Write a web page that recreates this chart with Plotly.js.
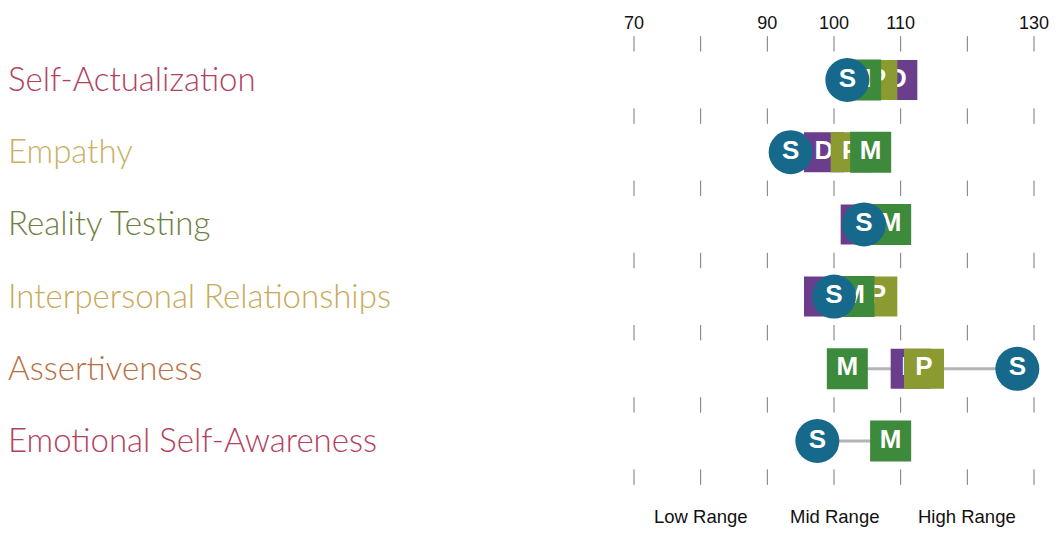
<!DOCTYPE html>
<html>
<head>
<meta charset="utf-8">
<script src="https://cdn.plot.ly/plotly-3.0.1.min.js"></script>
<style>
  html, body { margin: 0; padding: 0; background: #fff; }
  #chart { width: 1057px; height: 535px; }
</style>
</head>
<body>
<div id="chart"></div>
<script>
// scales, top to bottom
const scales = ['Self-Actualization', 'Empathy', 'Reality Testing',
    'Interpersonal Relationships', 'Assertiveness', 'Emotional Self-Awareness'];
const scaleColors = ['#b3405e', '#c9b062', '#6e8041', '#c8aa58', '#b9703f', '#b3405e'];

// rater scores (null = not shown)
const selfScores    = [102, 93.5, 104.5, 100, 127.5, 97.5];
const managerScores = [104, 105.5, 108.5, 103, 102, 108.5];
const directScores  = [109.5, 98.5, 104, 98.5, 111.5, 108.5];
const peerScores    = [106.5, 102.5, null, 106.5, 113.5, null];

// axis ticks and range labels
const tickMarks = [70, 80, 90, 100, 110, 120, 130];
const tickLabelVals = [70, 90, 100, 110, 130];
const rangeLabels = ['Low Range', 'Mid Range', 'High Range'];
const rangeCenters = [80, 100, 120];

const rows = scales.map((_, i) => i);

// grey line from lowest to highest score in each row
const lineX = [], lineY = [];
rows.forEach(i => {
    const vals = [selfScores[i], managerScores[i], directScores[i], peerScores[i]]
        .filter(v => v !== null);
    lineX.push(Math.min(...vals), Math.max(...vals), null);
    lineY.push(i, i, null);
});

// little tick marks between rows
const tmX = [], tmY = [];
for (let b = 0; b <= scales.length; b++) {
    tickMarks.forEach(t => { tmX.push(t); tmY.push(b - 0.5); });
}

function rater(scores, letter, color, symbol, size) {
    return {
        x: scores,
        y: rows,
        mode: 'markers+text',
        type: 'scatter',
        text: scores.map(v => v === null ? '' : letter),
        textposition: 'middle center',
        textfont: { family: 'Liberation Sans, Arial, sans-serif', size: 26, color: '#ffffff', weight: 'bold' },
        marker: { symbol: symbol, size: size, color: color, line: { width: 0 } },
        hoverinfo: 'skip',
        cliponaxis: false,
        showlegend: false
    };
}

const traceTicks = {
    x: tmX, y: tmY,
    mode: 'markers', type: 'scatter',
    marker: { symbol: 'line-ns', size: 11, line: { width: 1, color: '#777' } },
    hoverinfo: 'skip', showlegend: false
};

const traceLine = {
    x: lineX, y: lineY,
    mode: 'lines', type: 'scatter',
    line: { color: '#b4b4b4', width: 3 },
    hoverinfo: 'skip', showlegend: false
};

const traceDirect = rater(directScores, 'D', '#6a3d8d', 'square', 40);
const tracePeer = rater(peerScores, 'P', '#8c9a32', 'square', 40);
const traceManager = rater(managerScores, 'M', '#3e8a3c', 'square', 41);
const traceSelf = rater(selfScores, 'S', '#17698c', 'circle', 44);

const annotations = scales.map((s, i) => ({
    text: s,
    xref: 'paper', x: 0.006, xanchor: 'left',
    yref: 'y', y: i, yanchor: 'middle', yshift: 2,
    showarrow: false,
    font: { family: 'Lato, sans-serif', size: 33, color: scaleColors[i], weight: 300 }
}));
rangeLabels.forEach((r, i) => annotations.push({
    text: r,
    xref: 'x', x: rangeCenters[i], xanchor: 'center',
    yref: 'paper', y: 0, yanchor: 'top', yshift: 1,
    showarrow: false,
    font: { family: 'Liberation Sans, Arial, sans-serif', size: 18.5, color: '#111' }
}));

const layout = {
    width: 1057,
    height: 535,
    margin: { l: 0, r: 0, t: 34, b: 30 },
    paper_bgcolor: '#ffffff',
    plot_bgcolor: '#ffffff',
    xaxis: {
        domain: [600 / 1057, 1],
        range: [70 - 34 / 6.667, 133.45],
        side: 'top',
        tickvals: tickLabelVals,
        ticks: '',
        showgrid: false, zeroline: false, showline: false,
        tickfont: { family: 'Liberation Sans, Arial, sans-serif', size: 18, color: '#111' },
        fixedrange: true
    },
    yaxis: {
        range: [5.886, -0.637],
        showticklabels: false, showgrid: false, zeroline: false, showline: false,
        fixedrange: true
    },
    annotations: annotations
};

Plotly.newPlot('chart', [traceTicks, traceLine, traceDirect, tracePeer, traceManager, traceSelf],
    layout, { displayModeBar: false, staticPlot: true });
</script>
</body>
</html>
